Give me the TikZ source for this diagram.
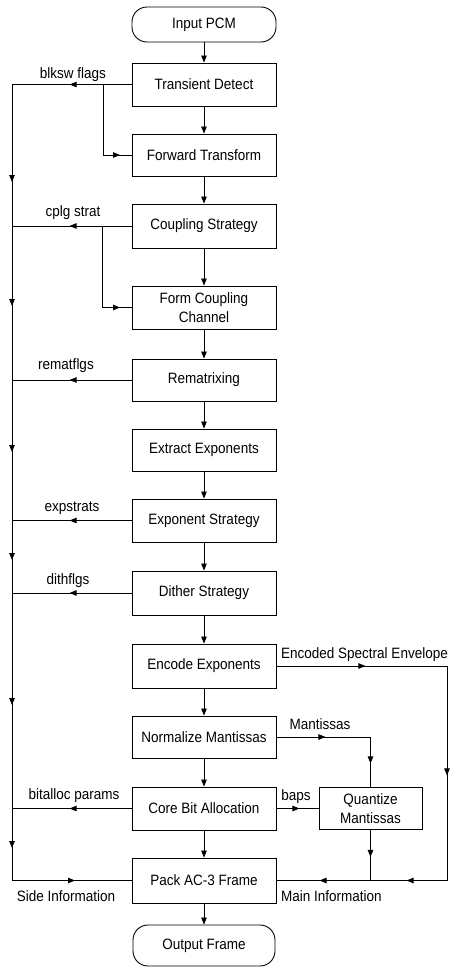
\documentclass[tikz,border=0pt]{standalone}
\usepackage{fontspec}
\setmainfont[FakeStretch=0.9]{Liberation Sans}
\usetikzlibrary{arrows.meta,decorations.markings}
\begin{document}
\begin{tikzpicture}[x=1bp,y=-1bp,
  >={Triangle[length=7bp,width=5.5bp]},
  every node/.style={font=\fontsize{15bp}{19bp}\selectfont},
  box/.style={draw,line width=0.9bp,minimum width=144bp,inner sep=0pt,align=center},
  term/.style={box,rounded corners=15bp},
  ln/.style={line width=0.8bp},
  am/.style={postaction={decorate,decoration={markings,mark=at position #1 with {\arrow{>}}}}},
  lab/.style={inner sep=0pt}
]
\useasboundingbox (0,0) rectangle (450,967);

% main column
\node[term,minimum height=35bp] (inpcm) at (204,24.5) {Input PCM};
\node[box,minimum height=43bp] (td) at (204,84.5) {Transient Detect};
\node[box,minimum height=42bp] (ft) at (204,155) {Forward Transform};
\node[box,minimum height=44bp] (cs) at (204,226) {Coupling Strategy};
\node[box,minimum height=43bp] (fcc) at (204,307.5) {Form Coupling\\Channel};
\node[box,minimum height=42bp] (rm) at (204,380) {Rematrixing};
\node[box,minimum height=42bp] (ee) at (204,450) {Extract Exponents};
\node[box,minimum height=43bp] (es) at (204,520.5) {Exponent Strategy};
\node[box,minimum height=44bp] (ds) at (204,593) {Dither Strategy};
\node[box,minimum height=44bp] (enc) at (204,666) {Encode Exponents};
\node[box,minimum height=42bp] (nm) at (204,737) {Normalize Mantissas};
\node[box,minimum height=43bp] (cba) at (204,808.5) {Core Bit Allocation};
\node[box,minimum height=45bp] (pack) at (204,880.5) {Pack AC-3 Frame};
\node[term,minimum height=41bp,minimum width=142bp] (out) at (204,945.5) {Output Frame};
\node[box,minimum width=103bp,minimum height=42bp] (qm) at (370.5,808.5) {Quantize\\Mantissas};

% vertical flow
\draw[ln,->] (inpcm.south) -- (td.north);
\draw[ln,->] (td.south) -- (ft.north);
\draw[ln,->] (ft.south) -- (cs.north);
\draw[ln,->] (cs.south) -- (fcc.north);
\draw[ln,->] (fcc.south) -- (rm.north);
\draw[ln,->] (rm.south) -- (ee.north);
\draw[ln,->] (ee.south) -- (es.north);
\draw[ln,->] (es.south) -- (ds.north);
\draw[ln,->] (ds.south) -- (enc.north);
\draw[ln,->] (enc.south) -- (nm.north);
\draw[ln,->] (nm.south) -- (cba.north);
\draw[ln,->] (cba.south) -- (pack.north);
\draw[ln,->] (pack.south) -- (out.north);

% left side-information bus
\coordinate (b0) at (12,84.5);
\coordinate (b1) at (12,880.5);
\draw[ln,am=62bp] (td.west) -- (b0);
\draw[ln,am=97.5bp,am=221.5bp,am=367.5bp,am=475.5bp,am=620.5bp,am=763.5bp,am=859bp]
  (b0) -- (b1) -- (pack.west);
\coordinate (j1) at (103,84.5);
\draw[ln,am=87.5bp] (j1) |- (ft.west);
\draw[ln,am=62bp] (cs.west) -- (cs.west -| b0);
\coordinate (j2) at (102,226);
\draw[ln,am=99.5bp] (j2) |- (fcc.west);
\draw[ln,am=62bp] (rm.west) -- (rm.west -| b0);
\draw[ln,am=62bp] (es.west) -- (es.west -| b0);
\draw[ln,am=62bp] (ds.west) -- (ds.west -| b0);
\draw[ln,am=62bp] (cba.west) -- (cba.west -| b0);

% right main-information path
\coordinate (r0) at (447,666);
\draw[ln,am=89bp,am=280bp,am=425.5bp,am=512.5bp]
  (enc.east) -- (r0) -- (r0 |- pack.east) -- (pack.east);
\draw[ln,am=49bp,am=120.5bp] (nm.east) -- (nm.east -| qm.north) -- (qm.north);
\draw[ln,am=23bp] (cba.east) -- (qm.west);
\draw[ln,am=27bp] (qm.south) -- (qm.south |- pack.east);

% labels
\node[lab] (l1) at (73,75) {blksw flags};
\node[lab] (l2) at (73,213) {cplg strat};
\node[lab] (l3) at (66,366) {rematflgs};
\node[lab] (l4) at (72,508) {expstrats};
\node[lab] (l5) at (68,581) {dithflgs};
\node[lab] (l6) at (74,796) {bitalloc params};
\node[lab] (l7) at (66,896) {Side Information};
\node[lab,anchor=west] (l8) at (281,896) {Main Information};
\node[lab,anchor=west] (l9) at (281,655) {Encoded Spectral Envelope};
\node[lab] (l10) at (320,724) {Mantissas};
\node[lab] (l11) at (296,797) {baps};
\end{tikzpicture}
\end{document}
